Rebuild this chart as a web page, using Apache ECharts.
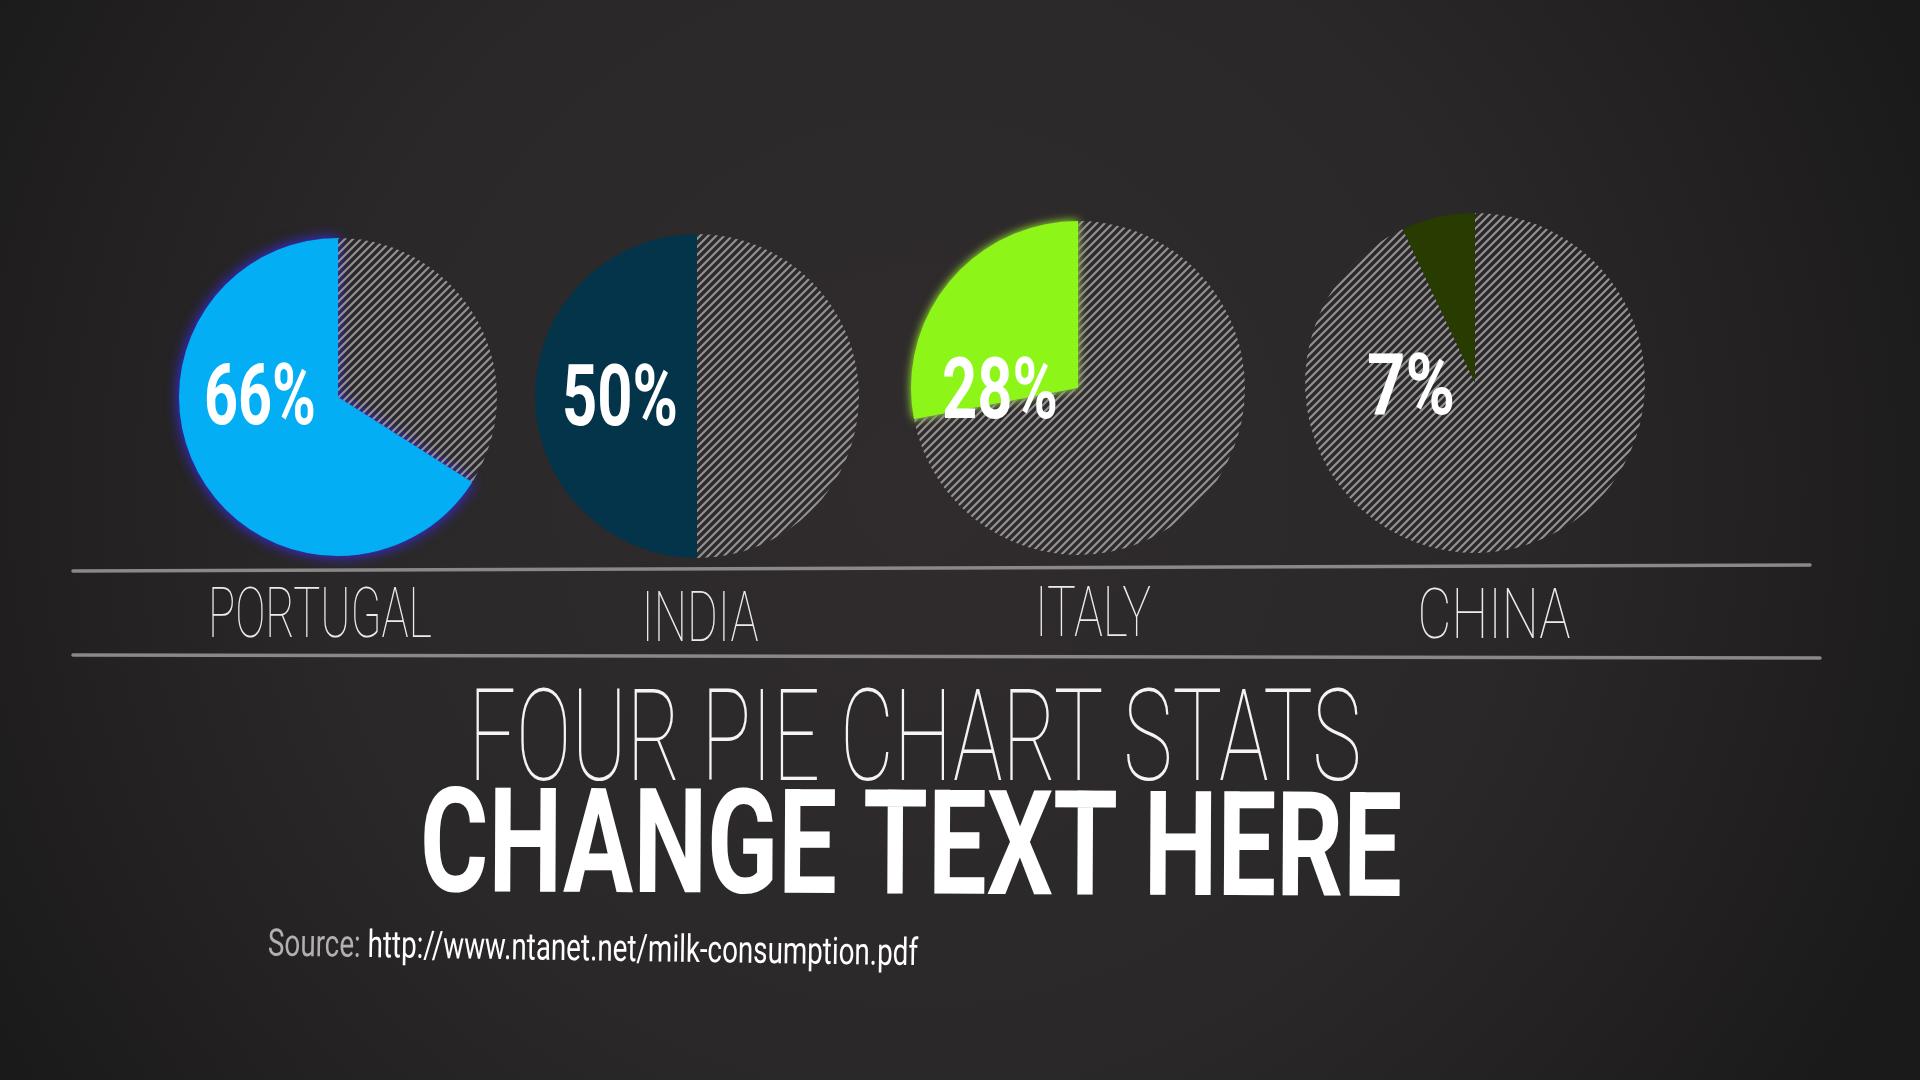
<!DOCTYPE html>
<html><head><meta charset="utf-8">
<script src="https://cdn.jsdelivr.net/npm/echarts@6/dist/echarts.min.js"></script>
<style>html,body{margin:0;padding:0;background:#262425;}#c{width:1920px;height:1080px;}</style>
</head><body><div id="c"></div>
<script>
// ---- data ----
const countries = ['PORTUGAL', 'INDIA', 'ITALY', 'CHINA'];
const shares = [66, 50, 28, 7];
const titleLine = 'FOUR PIE CHART STATS';
const subtitleLine = 'CHANGE TEXT HERE';
const sourceLabel = 'Source:';
const sourceUrl = 'http://www.ntanet.net/milk-consumption.pdf';

// ---- layout / style (not data) ----
const pieLayout = [
  { cx: 338, cy: 397, r: 159, color: '#03AEF4', glow: '#3a2dff', glowBlur: 14, lx: 260, ly: 402, lw: 112, lglow: 'rgba(90,255,255,1)' },
  { cx: 697, cy: 396, r: 162, color: '#04344A', glow: null, glowBlur: 0, lx: 620, ly: 403, lw: 116, lglow: 'rgba(200,235,255,0.95)' },
  { cx: 1078, cy: 388, r: 167, color: '#8DF517', glow: '#aaff33', glowBlur: 10, lx: 1000, ly: 396, lw: 116, lglow: 'rgba(255,255,200,1)' },
  { cx: 1475, cy: 383, r: 170, color: '#283B00', glow: null, glowBlur: 0, lx: 1411, ly: 392, lw: 88, lglow: 'rgba(255,255,255,0.9)' }
];
const countryLayout = [
  { x: 320, y: 619, w: 224 },
  { x: 700, y: 623, w: 117 },
  { x: 1093, y: 618, w: 116 },
  { x: 1494, y: 620, w: 153 }
];

// hatch pattern
function makeHatch() {
  const s = 8;
  const c = document.createElement('canvas');
  c.width = s; c.height = s;
  const g = c.getContext('2d');
  g.strokeStyle = '#939191';
  g.lineWidth = 2.2;
  g.beginPath();
  g.moveTo(-2, s + 2); g.lineTo(s + 2, -2);
  g.moveTo(-2, 2); g.lineTo(2, -2);
  g.moveTo(s - 2, s + 2); g.lineTo(s + 2, s - 2);
  g.stroke();
  return c;
}
const hatch = { image: makeHatch(), repeat: 'repeat' };

const mctx = document.createElement('canvas').getContext('2d');
function fitScale(text, font, w) { mctx.font = font; return w / mctx.measureText(text).width; }

const series = shares.map((v, i) => {
  const L = pieLayout[i];
  const colored = { value: v, name: countries[i], itemStyle: { color: L.color } };
  if (L.glow) { colored.itemStyle.shadowBlur = L.glowBlur; colored.itemStyle.shadowColor = L.glow; }
  return {
    type: 'pie',
    silent: true,
    animation: false,
    center: [L.cx, L.cy],
    radius: [0, L.r],
    startAngle: 90,
    clockwise: false,
    label: { show: false },
    labelLine: { show: false },
    emphasis: { disabled: true },
    itemStyle: { borderWidth: 0 },
    data: [colored, { value: 100 - v, name: 'rest', itemStyle: { color: hatch } }]
  };
});

const graphics = [];
// percent labels
shares.forEach((v, i) => {
  const L = pieLayout[i];
  const txt = v + '%';
  const font = 'bold 86px Roboto';
  graphics.push({
    type: 'text', x: L.lx, y: L.ly, scaleX: fitScale(txt, font, L.lw), z: 10, silent: true,
    style: { text: txt, font: font, fill: '#ffffff', align: 'center', verticalAlign: 'middle',
      shadowBlur: 20, shadowColor: L.lglow }
  });
});
// separator lines
graphics.push({ type: 'line', silent: true, shape: { x1: 73, y1: 571, x2: 1810, y2: 565 },
  style: { stroke: '#8a8888', lineWidth: 3.5, lineCap: 'round' } });
graphics.push({ type: 'line', silent: true, shape: { x1: 73, y1: 655, x2: 1820, y2: 658 },
  style: { stroke: '#8a8888', lineWidth: 3.5, lineCap: 'round' } });
// country names
countries.forEach((c, i) => {
  const L = countryLayout[i];
  const font = '100 70px Roboto';
  graphics.push({
    type: 'text', x: L.x, y: L.y, scaleX: fitScale(c, font, L.w), silent: true,
    style: { text: c, font: font, fill: '#ecebeb', align: 'center', verticalAlign: 'middle',
      shadowBlur: 10, shadowColor: 'rgba(255,255,255,0.45)' }
  });
});
// titles
{
  const f1 = '100 128px Roboto';
  graphics.push({
    type: 'text', x: 915, y: 748, scaleX: fitScale(titleLine, f1, 893), silent: true,
    style: { text: titleLine, font: f1, fill: '#f4f4f4', align: 'center', verticalAlign: 'middle',
      shadowBlur: 10, shadowColor: 'rgba(255,255,255,0.5)' }
  });
  const f2 = 'bold 146px Roboto';
  graphics.push({
    type: 'text', x: 911, y: 857, scaleX: fitScale(subtitleLine, f2, 982), rotation: -0.005, silent: true,
    style: { text: subtitleLine, font: f2, fill: '#ffffff', align: 'center', verticalAlign: 'middle',
      shadowBlur: 24, shadowColor: 'rgba(255,255,255,0.75)' }
  });
  const f3 = '38px Roboto';
  const full = sourceLabel + ' ' + sourceUrl;
  graphics.push({
    type: 'text', x: 268, y: 946, scaleX: fitScale(full, f3, 650), rotation: -0.015, silent: true,
    style: {
      text: '{a|' + sourceLabel + '} {b|' + sourceUrl + '}',
      font: f3, align: 'left', verticalAlign: 'middle',
      rich: {
        a: { fill: '#b2b0b0', font: f3, shadowBlur: 6, shadowColor: 'rgba(255,255,255,0.35)' },
        b: { fill: '#ffffff', font: f3, shadowBlur: 8, shadowColor: 'rgba(255,255,255,0.6)' }
      }
    }
  });
}

const chart = echarts.init(document.getElementById('c'), null, { renderer: 'canvas', width: 1920, height: 1080 });
chart.setOption({
  animation: false,
  backgroundColor: {
    type: 'radial', x: 0.48, y: 0.45, r: 1.0,
    colorStops: [
      { offset: 0, color: '#302c2d' },
      { offset: 0.55, color: '#2b2829' },
      { offset: 1, color: '#1b1a1b' }
    ]
  },
  series: series,
  graphic: graphics
});
</script>
</body></html>
